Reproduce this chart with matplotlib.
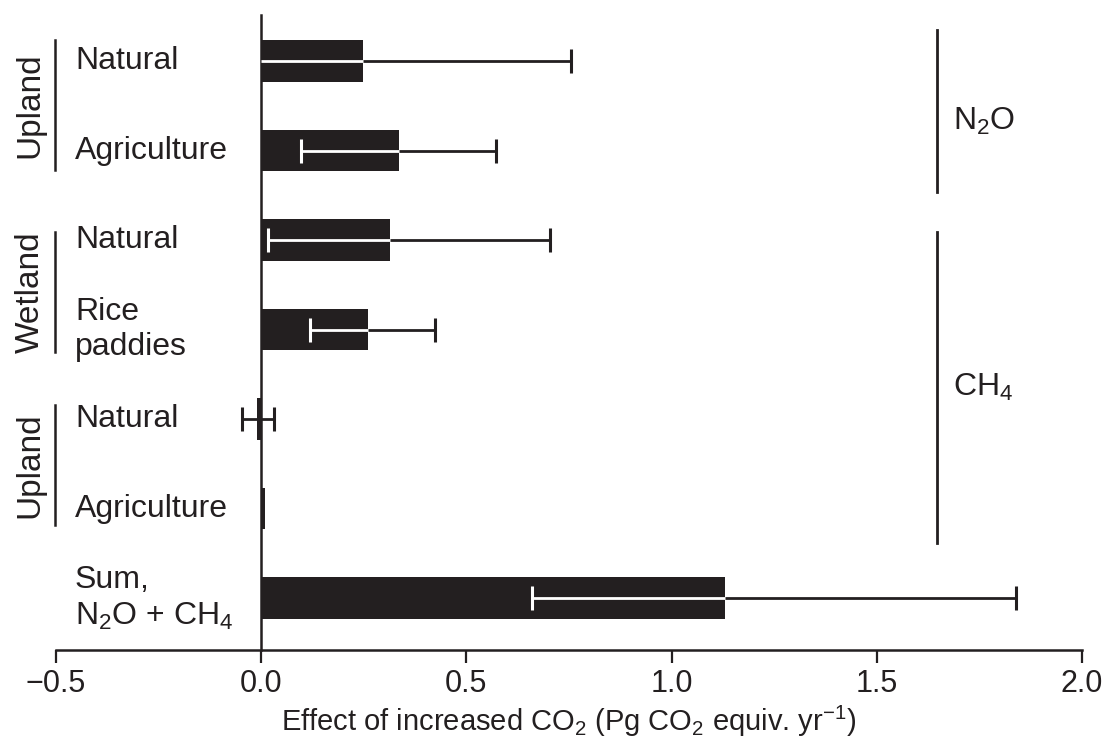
import numpy as np
import matplotlib
matplotlib.use("Agg")
import matplotlib.pyplot as plt
from matplotlib.transforms import blended_transform_factory
from matplotlib.lines import Line2D

plt.rcParams['font.family'] = ['Liberation Sans', 'DejaVu Sans']
plt.rcParams['mathtext.default'] = 'regular'

# data (Pg CO2 equiv. per yr)
labels = ["Natural", "Agriculture", "Natural", "Rice\npaddies",
          "Natural", "Agriculture", "Sum,\nN$_2$O + CH$_4$"]
values = [0.248, 0.336, 0.315, 0.261, -0.010, 0.010, 1.129]
err_low = [0.0, 0.097, 0.016, 0.119, -0.046, 0.010, 0.659]
err_high = [0.756, 0.571, 0.704, 0.423, 0.031, 0.010, 1.839]

groups = ["Upland", "Wetland", "Upland"]
group_span = [(-0.23, 1.22), (1.91, 3.25), (3.84, 5.18)]
gases = ["N$_2$O", "CH$_4$"]
gas_span = [(-0.35, 1.46), (1.91, 5.39)]
gas_text_y = [0.68, 3.65]

bar_col = '#231f20'
W, H = 1110, 745
fig = plt.figure(figsize=(W / 100, H / 100), dpi=100)
ax = fig.add_axes([56 / W, 1 - 650 / H, (1082 - 56) / W, (650 - 15) / H])

y = np.arange(len(values))
ax.barh(y, values, height=0.46, color=bar_col, zorder=2)

# error intervals: part inside the bar drawn white, no cap at the bar end
for yi, v, lo, hi in zip(y, values, err_low, err_high):
    if v - lo > 0:
        col = 'white' if lo >= 0 else bar_col
        ax.hlines(yi, lo, v, color=col, lw=2, zorder=3)
        if abs(lo) > 0.002:
            ax.plot([lo], [yi], marker='|', ms=17, mew=2.2, color=col, zorder=3)
    if hi - v > 0:
        ax.hlines(yi, v, hi, color=bar_col, lw=2, zorder=4)
        ax.plot([hi], [yi], marker='|', ms=17, mew=2.2, color=bar_col, zorder=4)

ax.set_xlim(-0.5, 2.0)
ax.set_ylim(6.58, -0.514)
ax.set_xticks([-0.5, 0.0, 0.5, 1.0, 1.5, 2.0])
ax.set_xticklabels(['\u22120.5', '0.0', '0.5', '1.0', '1.5', '2.0'])
ax.set_yticks([])
ax.tick_params(axis='x', direction='out', length=9, width=1.6, labelsize=22,
               pad=5, colors=bar_col)
ax.spines['top'].set_visible(False)
ax.spines['right'].set_visible(False)
ax.spines['left'].set_position(('data', 0))
for s in ['left', 'bottom']:
    ax.spines[s].set_linewidth(1.8)
    ax.spines[s].set_color(bar_col)
ax.set_xlabel('Effect of increased CO$_2$ (Pg CO$_2$ equiv. yr$^{-1}$)',
              fontsize=21, labelpad=3, color=bar_col)

# row labels and group brackets on the left
tr = blended_transform_factory(fig.transFigure, ax.transData)
for yi, lab in zip(y, labels):
    ax.text(75 / W, yi, lab, transform=tr, ha='left', va='center',
            fontsize=23, color=bar_col, linespacing=1.25)
for g, (a, b) in zip(groups, group_span):
    fig.add_artist(Line2D([55 / W, 55 / W], [a, b], transform=tr,
                          color=bar_col, lw=1.8))
    ax.text(30 / W, (a + b) / 2, g, transform=tr, rotation=90, ha='center',
            va='center', fontsize=24, color=bar_col)

# gas brackets on the right
for g, (a, b), ty in zip(gases, gas_span, gas_text_y):
    ax.plot([1.647, 1.647], [a, b], color=bar_col, lw=2, clip_on=False)
    ax.text(1.686, ty, g, ha='left', va='center', fontsize=23, color=bar_col)

fig.savefig('out.png', dpi=100, facecolor='white')
